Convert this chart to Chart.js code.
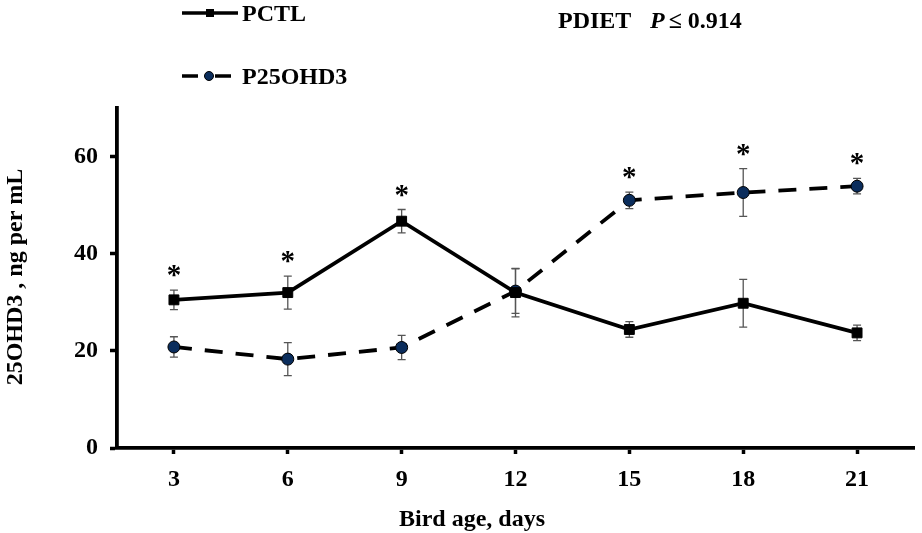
<!DOCTYPE html>
<html>
<head>
<meta charset="utf-8">
<script src="https://cdn.jsdelivr.net/npm/chart.js@4.4.1/dist/chart.umd.min.js"></script>
<style>
  body { margin: 0; background: #fff; }
  #wrap { width: 922px; height: 533px; }
</style>
</head>
<body>
<div id="wrap"><canvas id="chart"></canvas></div>
<script>
const days = ["3", "6", "9", "12", "15", "18", "21"];
const pctl = [30.5, 32.0, 46.7, 32.0, 24.4, 29.8, 23.7];
const pctlSe = [2.0, 3.4, 2.4, 5.0, 1.6, 4.9, 1.6];
const p25 = [20.8, 18.3, 20.7, 32.3, 51.0, 52.6, 53.9];
const p25Se = [2.1, 3.4, 2.5, 4.6, 1.7, 4.9, 1.6];
const starred = [true, true, true, false, true, true, true];
const yTicks = [0, 20, 40, 60];

const serif = "'Liberation Serif', 'Times New Roman', serif";
const navy = "#0b2d5c";

canvas = document.getElementById("chart");
ctx = canvas.getContext("2d");


// error bars under the lines, asterisks over them
const errorBars = {
    id: "errorBars",
    beforeDatasetsDraw(chart) {
        const { ctx, scales: { x, y } } = chart;
        ctx.save();
        ctx.strokeStyle = "#555";
        ctx.lineWidth = 1.3;
        [[pctl, pctlSe], [p25, p25Se]].forEach(([vals, se]) => {
            vals.forEach((v, i) => {
                const px = x.getPixelForValue(i);
                const top = y.getPixelForValue(v + se[i]);
                const bot = y.getPixelForValue(v - se[i]);
                ctx.beginPath();
                ctx.moveTo(px, top); ctx.lineTo(px, bot);
                ctx.moveTo(px - 4, top); ctx.lineTo(px + 4, top);
                ctx.moveTo(px - 4, bot); ctx.lineTo(px + 4, bot);
                ctx.stroke();
            });
        });
        ctx.restore();
    },
    afterDatasetsDraw(chart) {
        const { ctx, scales: { x, y } } = chart;
        ctx.save();
        ctx.fillStyle = "#000";
        ctx.font = "bold 29px " + serif;
        ctx.textAlign = "center";
        ctx.textBaseline = "alphabetic";
        starred.forEach((s, i) => {
            if (!s) return;
            const hi = Math.max(pctl[i] + pctlSe[i], p25[i] + p25Se[i]);
            const cy = y.getPixelForValue(hi) - 19;
            ctx.fillText("*", x.getPixelForValue(i), cy + 13);
        });
        ctx.restore();
    }
};


const annotations = {
    id: "annotations",
    afterDraw(chart) {
        const ctx = chart.ctx;
        ctx.save();
        ctx.fillStyle = "#000";
        ctx.strokeStyle = "#000";
        ctx.textBaseline = "middle";
        ctx.textAlign = "left";
        ctx.font = "bold 24px " + serif;

        // legend: PCTL
        ctx.lineWidth = 3.5;
        ctx.beginPath();
        ctx.moveTo(182, 13); ctx.lineTo(238, 13);
        ctx.stroke();
        ctx.fillRect(206, 9, 8, 8);
        ctx.fillText("PCTL", 242, 15);

        // legend: P25OHD3
        ctx.beginPath();
        ctx.moveTo(182, 76); ctx.lineTo(198, 76);
        ctx.moveTo(215, 76); ctx.lineTo(231, 76);
        ctx.stroke();
        ctx.beginPath();
        ctx.arc(209, 76, 4.5, 0, Math.PI * 2);
        ctx.fillStyle = navy;
        ctx.fill();
        ctx.lineWidth = 1;
        ctx.stroke();
        ctx.fillStyle = "#000";
        ctx.fillText("P25OHD3", 242, 78);

        // p value
        ctx.fillText("PDIET", 558, 22);
        ctx.font = "italic bold 24px " + serif;
        ctx.fillText("P", 650, 22);
        const pw = ctx.measureText("P").width;
        ctx.font = "bold 24px " + serif;
        ctx.fillText("\u2264 0.914", 650 + pw + 4, 22);

        // axis titles
        ctx.textAlign = "center";
        ctx.fillText("Bird age, days", 472, 520);
        ctx.translate(16, 277);
        ctx.rotate(-Math.PI / 2);
        ctx.fillText("25OHD3 , ng per mL", 0, 0);
        ctx.restore();
    }
};


chart = new Chart(ctx, {
    type: "line",
    data: {
        labels: days,
        datasets: [
            {
                label: "PCTL",
                data: pctl,
                borderColor: "#000",
                borderWidth: 3.8,
                pointStyle: "rect",
                pointRadius: 7,
                pointBackgroundColor: "#000",
                pointBorderColor: "#000",
                pointBorderWidth: 1,
                tension: 0
            },
            {
                label: "P25OHD3",
                data: p25,
                borderColor: "#000",
                borderWidth: 3.8,
                borderDash: [18, 13],
                pointStyle: "circle",
                pointRadius: 6,
                pointBackgroundColor: navy,
                pointBorderColor: "#000",
                pointBorderWidth: 1,
                tension: 0
            }
        ]
    },
    options: {
        responsive: true,
        maintainAspectRatio: false,
        animation: false,
        layout: { padding: { top: 108, right: 4, left: 0, bottom: 0 } },
        scales: {
            x: {
                type: "category",
                offset: true,
                afterFit: (scale) => { scale.height = 85; },
                grid: {
                    drawOnChartArea: false,
                    drawTicks: true,
                    tickLength: 6,
                    tickWidth: 3.5,
                    tickColor: "#000",
                    offset: false
                },
                border: { display: true, color: "#000", width: 3.8 },
                ticks: {
                    color: "#000",
                    padding: 11,
                    maxRotation: 0,
                    font: { family: serif, size: 24, weight: "bold" }
                }
            },
            y: {
                min: 0,
                max: 70,
                afterFit: (scale) => { scale.width = 117; },
                afterBuildTicks: (scale) => { scale.ticks = yTicks.map(v => ({ value: v })); },
                grid: {
                    drawOnChartArea: false,
                    drawTicks: true,
                    tickLength: 7,
                    tickWidth: 3.5,
                    tickColor: "#000"
                },
                border: { display: true, color: "#000", width: 3.8 },
                ticks: {
                    color: "#000",
                    padding: 12,
                    includeBounds: false,
                    font: { family: serif, size: 24, weight: "bold" }
                }
            }
        },
        plugins: {
            legend: { display: false },
            tooltip: { enabled: false }
        }
    },
    plugins: [errorBars, annotations]
});
</script>
</body>
</html>
